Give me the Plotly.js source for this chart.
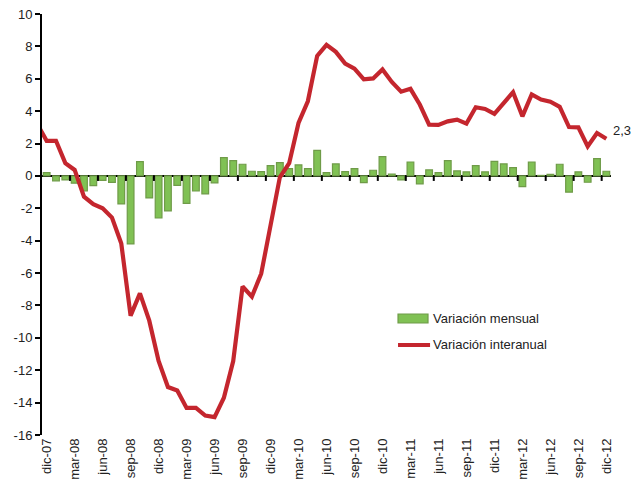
<!DOCTYPE html>
<html>
<head>
<meta charset="utf-8">
<script src="https://cdn.plot.ly/plotly-3.0.1.min.js"></script>
<style>
  html, body { margin: 0; padding: 0; background: #ffffff; }
  #chart { width: 631px; height: 491px; }
</style>
</head>
<body>
<div id="chart"></div>
<script>
// Months (categories) dic-07 .. dic-12
const months = [
  "dic-07","ene-08","feb-08","mar-08","abr-08","may-08","jun-08","jul-08","ago-08","sep-08","oct-08","nov-08",
  "dic-08","ene-09","feb-09","mar-09","abr-09","may-09","jun-09","jul-09","ago-09","sep-09","oct-09","nov-09",
  "dic-09","ene-10","feb-10","mar-10","abr-10","may-10","jun-10","jul-10","ago-10","sep-10","oct-10","nov-10",
  "dic-10","ene-11","feb-11","mar-11","abr-11","may-11","jun-11","jul-11","ago-11","sep-11","oct-11","nov-11",
  "dic-11","ene-12","feb-12","mar-12","abr-12","may-12","jun-12","jul-12","ago-12","sep-12","oct-12","nov-12",
  "dic-12"
];

// Variación mensual (bars)
const mensual = [
  0.2, -0.3, -0.25, -0.45, -0.93, -0.6, -0.27, -0.4, -1.73, -4.2, 0.88, -1.36,
  -2.6, -2.16, -0.58, -1.7, -0.93, -1.11, -0.43, 1.13, 0.95, 0.72, 0.29, 0.27,
  0.64, 0.82, 0.45, 0.68, 0.45, 1.58, 0.2, 0.74, 0.27, 0.45, -0.41, 0.35,
  1.19, 0.12, -0.25, 0.86, -0.49, 0.37, 0.2, 0.95, 0.31, 0.25, 0.64, 0.25,
  0.9, 0.74, 0.51, -0.66, 0.86, 0.03, 0.1, 0.72, -1.0, 0.25, -0.39, 1.07,
  0.29
];

// Variación interanual (line) – nov-07 value sits just left of the axis (clipped)
const prevMonth = "nov-07";
const prevInteranual = 3.2;
const interanual = [
  2.17, 2.17, 0.79, 0.37, -1.28, -1.74, -2.0, -2.57, -4.18, -8.63, -7.25, -8.94,
  -11.43, -13.04, -13.25, -14.33, -14.33, -14.8, -14.9, -13.7, -11.43, -6.83, -7.45, -6.04,
  -3.15, -0.08, 0.79, 3.27, 4.61, 7.41, 8.09, 7.66, 6.94, 6.63, 5.96, 6.02,
  6.58, 5.8, 5.2, 5.38, 4.41, 3.17, 3.15, 3.37, 3.48, 3.23, 4.24, 4.14,
  3.83, 4.47, 5.17, 3.68, 5.03, 4.72, 4.58, 4.27, 3.02, 3.0, 1.82, 2.65,
  2.3
];

const lastLabel = "2,3";
const yTickVals = [-16, -14, -12, -10, -8, -6, -4, -2, 0, 2, 4, 6, 8, 10];
const yTickText = ["-16", "-14", "-12", "-10", "-8", "-6", "-4", "-2", "0", "2", "4", "6", "8", "10"];
const seriesNames = ["Variación mensual", "Variación interanual"];

const barColor = '#80c154', barEdge = '#6f9b48', lineColor = '#c4262e';

const idx = months.map((m, i) => i);
const tickIdx = idx.filter(i => i % 3 === 0);
const tickText = tickIdx.map(i => months[i]);
const lineX = [-1].concat(idx);
const lineY = [prevInteranual].concat(interanual);
const lineText = [prevMonth].concat(months);

// small tick marks on the zero line at every 3rd category boundary
const boundaryTicks = tickIdx.filter(i => i > 0).map(i => ({
  type: 'line', xref: 'x', yref: 'y', ysizemode: 'pixel', yanchor: 0,
  x0: i - 0.5, x1: i - 0.5, y0: 0, y1: -5,
  line: { color: '#000000', width: 2 }, layer: 'above'
}));

// custom legend (Excel-like symbols)
const legendShapes = [
  { type: 'rect', xref: 'paper', yref: 'paper', x0: 0.6257, x1: 0.6784, y0: 0.266, y1: 0.2874,
    fillcolor: barColor, line: { color: barEdge, width: 1.2 } },
  { type: 'line', xref: 'paper', yref: 'paper', x0: 0.6257, x1: 0.682, y0: 0.2138, y1: 0.2138,
    line: { color: lineColor, width: 4.2 } }
];
const legendNotes = [
  { xref: 'paper', yref: 'paper', x: 0.6837, y: 0.2779, text: seriesNames[0], showarrow: false,
    xanchor: 'left', yanchor: 'middle', font: { size: 13, color: '#222222' } },
  { xref: 'paper', yref: 'paper', x: 0.6837, y: 0.2138, text: seriesNames[1], showarrow: false,
    xanchor: 'left', yanchor: 'middle', font: { size: 13, color: '#222222' } }
];

const traces = [
  {
    type: 'bar',
    name: seriesNames[0],
    x: idx, y: mensual,
    width: 0.72,
    marker: { color: barColor, line: { color: barEdge, width: 1.2 } },
    hovertext: months, showlegend: false
  },
  {
    type: 'scatter', mode: 'lines',
    name: seriesNames[1],
    x: lineX, y: lineY,
    line: { color: lineColor, width: 4.2 },
    hovertext: lineText, showlegend: false
  }
];

const layout = {
  width: 631, height: 491,
  margin: { l: 42, r: 20, t: 14, b: 56, pad: 0 },
  paper_bgcolor: '#ffffff', plot_bgcolor: '#ffffff',
  font: { family: 'Liberation Sans, Arial, sans-serif', size: 13, color: '#222222' },
  showlegend: false,
  xaxis: {
    range: [-0.5, 60.5],
    tickmode: 'array', tickvals: tickIdx, ticktext: tickText,
    tickangle: -90, ticks: '', showgrid: false, zeroline: false, showline: false,
    tickfont: { size: 13, color: '#222222' }
  },
  yaxis: {
    range: [-16, 10],
    tickmode: 'array', tickvals: yTickVals, ticktext: yTickText,
    showgrid: false,
    zeroline: true, zerolinecolor: '#000000', zerolinewidth: 2,
    showline: true, linecolor: '#000000', linewidth: 2,
    ticks: 'outside', ticklen: 5, tickwidth: 2, tickcolor: '#000000',
    tickfont: { size: 13, color: '#222222' }
  },
  shapes: boundaryTicks.concat(legendShapes),
  annotations: [{
    xref: 'x', yref: 'y', x: idx[idx.length - 1], y: interanual[interanual.length - 1],
    text: lastLabel, showarrow: false, xanchor: 'left', yanchor: 'middle',
    xshift: 5, yshift: 8,
    font: { size: 13, color: '#222222' }
  }].concat(legendNotes)
};

Plotly.newPlot('chart', traces, layout, { displayModeBar: false, responsive: false });
</script>
</body>
</html>
